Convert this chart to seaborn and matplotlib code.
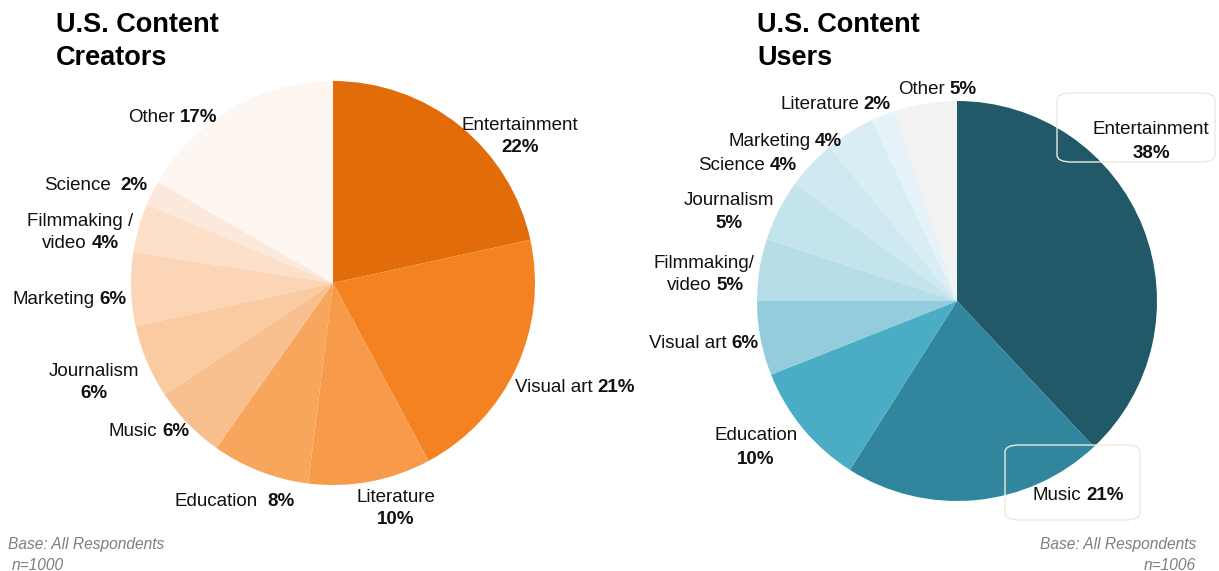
import matplotlib
matplotlib.use("Agg")
import matplotlib.pyplot as plt
import seaborn as sns
from matplotlib.patches import FancyBboxPatch

# === Data ===
creator_cats = ["Entertainment", "Visual art", "Literature", "Education", "Music",
                "Journalism", "Marketing", "Filmmaking / video", "Science", "Other"]
creator_vals = [22, 21, 10, 8, 6, 6, 6, 4, 2, 17]
creator_colors = ["#E36C0A", "#F58220", "#F79A4A", "#F8A65C", "#F9C08F",
                  "#FACBA1", "#FBD5B5", "#FCE0CA", "#FDE9DB", "#FEF7F1"]

user_cats = ["Entertainment", "Music", "Education", "Visual art", "Filmmaking/ video",
             "Journalism", "Science", "Marketing", "Literature", "Other"]
user_vals = [38, 21, 10, 6, 5, 5, 4, 4, 2, 5]
user_colors = ["#215968", "#31859C", "#4BACC6", "#93CDDD", "#B7DEE8",
               "#C3E4ED", "#CFE9F1", "#D9EEF4", "#E5F3F8", "#F2F2F2"]

W, H = 1219, 571

sns.set_theme(style="white")
plt.rcParams['font.family'] = ['Liberation Sans', 'DejaVu Sans']
plt.rcParams['text.color'] = 'black'

fig = plt.figure(figsize=(W / 100, H / 100), dpi=100)


def add_pie(cx, cy, r, vals, colors):
    ax = fig.add_axes([(cx - r) / W, (H - cy - r) / H, 2 * r / W, 2 * r / H])
    ax.pie(vals, colors=colors, startangle=90, counterclock=False, radius=1,
           wedgeprops=dict(linewidth=0))
    ax.set_xlim(-1, 1)
    ax.set_ylim(-1, 1)
    ax.set_axis_off()
    return ax


add_pie(333, 283, 202, creator_vals, creator_colors)
add_pie(957, 301, 200, user_vals, user_colors)

FS = 13.5
TC = "#111111"
DY = 2  # small vertical nudge (px)


def fx(x):
    return x / W


def fy(y):
    return 1 - (y + DY) / H


def inline(x, y, name, pct, gap=3.5):
    # name regular + pct bold on one line, x = left edge in px
    t = fig.text(fx(x), fy(y), name, fontsize=FS, ha="left", va="center", color=TC)
    plt.annotate(pct, xy=(1, 0.5), xycoords=t, xytext=(gap, 0), textcoords="offset points",
                 fontsize=FS, fontweight="bold", ha="left", va="center", color=TC,
                 annotation_clip=False)


def stacked(x, y1, y2, name, pct):
    fig.text(fx(x), fy(y1), name, fontsize=FS, ha="center", va="center", color=TC)
    fig.text(fx(x), fy(y2), pct, fontsize=FS, fontweight="bold", ha="center", va="center",
             color=TC)


def pct(v):
    return f"{v}%"


# left labels
c = dict(zip(creator_cats, creator_vals))
stacked(520, 124, 146, "Entertainment", pct(c["Entertainment"]))
inline(515, 385, "Visual art", pct(c["Visual art"]))
stacked(396, 496, 518, "Literature", pct(c["Literature"]))
inline(174, 499, "Education", pct(c["Education"]), gap=7)
inline(109, 429, "Music", pct(c["Music"]))
stacked(94, 369, 391, "Journalism", pct(c["Journalism"]))
inline(12, 297, "Marketing", pct(c["Marketing"]))
fig.text(fx(80), fy(219), "Filmmaking /", fontsize=FS, ha="center", va="center", color=TC)
inline(42, 242, "video", pct(c["Filmmaking / video"]))
inline(44, 183, "Science", pct(c["Science"]), gap=7)
inline(128, 116, "Other", pct(c["Other"]))

# right labels
u = dict(zip(user_cats, user_vals))
stacked(1151, 128, 151, "Entertainment", pct(u["Entertainment"]))
inline(1033, 494, "Music", pct(u["Music"]))
stacked(756, 434, 457, "Education", pct(u["Education"]))
inline(649, 342, "Visual art", pct(u["Visual art"]))
fig.text(fx(704), fy(261), "Filmmaking/", fontsize=FS, ha="center", va="center", color=TC)
inline(667, 283, "video", pct(u["Filmmaking/ video"]))
stacked(729, 199, 221, "Journalism", pct(u["Journalism"]))
inline(698, 164, "Science", pct(u["Science"]))
inline(728, 139, "Marketing", pct(u["Marketing"]))
inline(780, 102, "Literature", pct(u["Literature"]))
inline(898, 87, "Other", pct(u["Other"]))

# callout boxes
for (x0, y0, x1, y1) in [(1057, 93, 1215, 162), (1005, 445, 1140, 520)]:
    box = FancyBboxPatch((x0 / W, 1 - y1 / H), (x1 - x0) / W, (y1 - y0) / H,
                         boxstyle="round,pad=0,rounding_size=0.012",
                         transform=fig.transFigure, facecolor="none",
                         edgecolor="#ECEAE0", linewidth=1.0, zorder=10)
    fig.patches.append(box)

# titles
tt = dict(fontsize=19.5, fontweight="bold", ha="left", va="center", color="black")
fig.text(56 / W, 1 - 25 / H, "U.S. Content", **tt)
fig.text(56 / W, 1 - 58 / H, "Creators", **tt)
fig.text(757 / W, 1 - 25 / H, "U.S. Content", **tt)
fig.text(757 / W, 1 - 58 / H, "Users", **tt)

# footnotes
fn = dict(fontsize=11.2, style="italic", color="#7F7F7F", va="center")
fig.text(8 / W, 1 - 544 / H, "Base: All Respondents", ha="left", **fn)
fig.text(12 / W, 1 - 565 / H, "n=1000", ha="left", **fn)
fig.text(1196 / W, 1 - 544 / H, "Base: All Respondents", ha="right", **fn)
fig.text(1196 / W, 1 - 565 / H, "n=1006", ha="right", **fn)

fig.savefig("out.png", dpi=100, facecolor="white")
